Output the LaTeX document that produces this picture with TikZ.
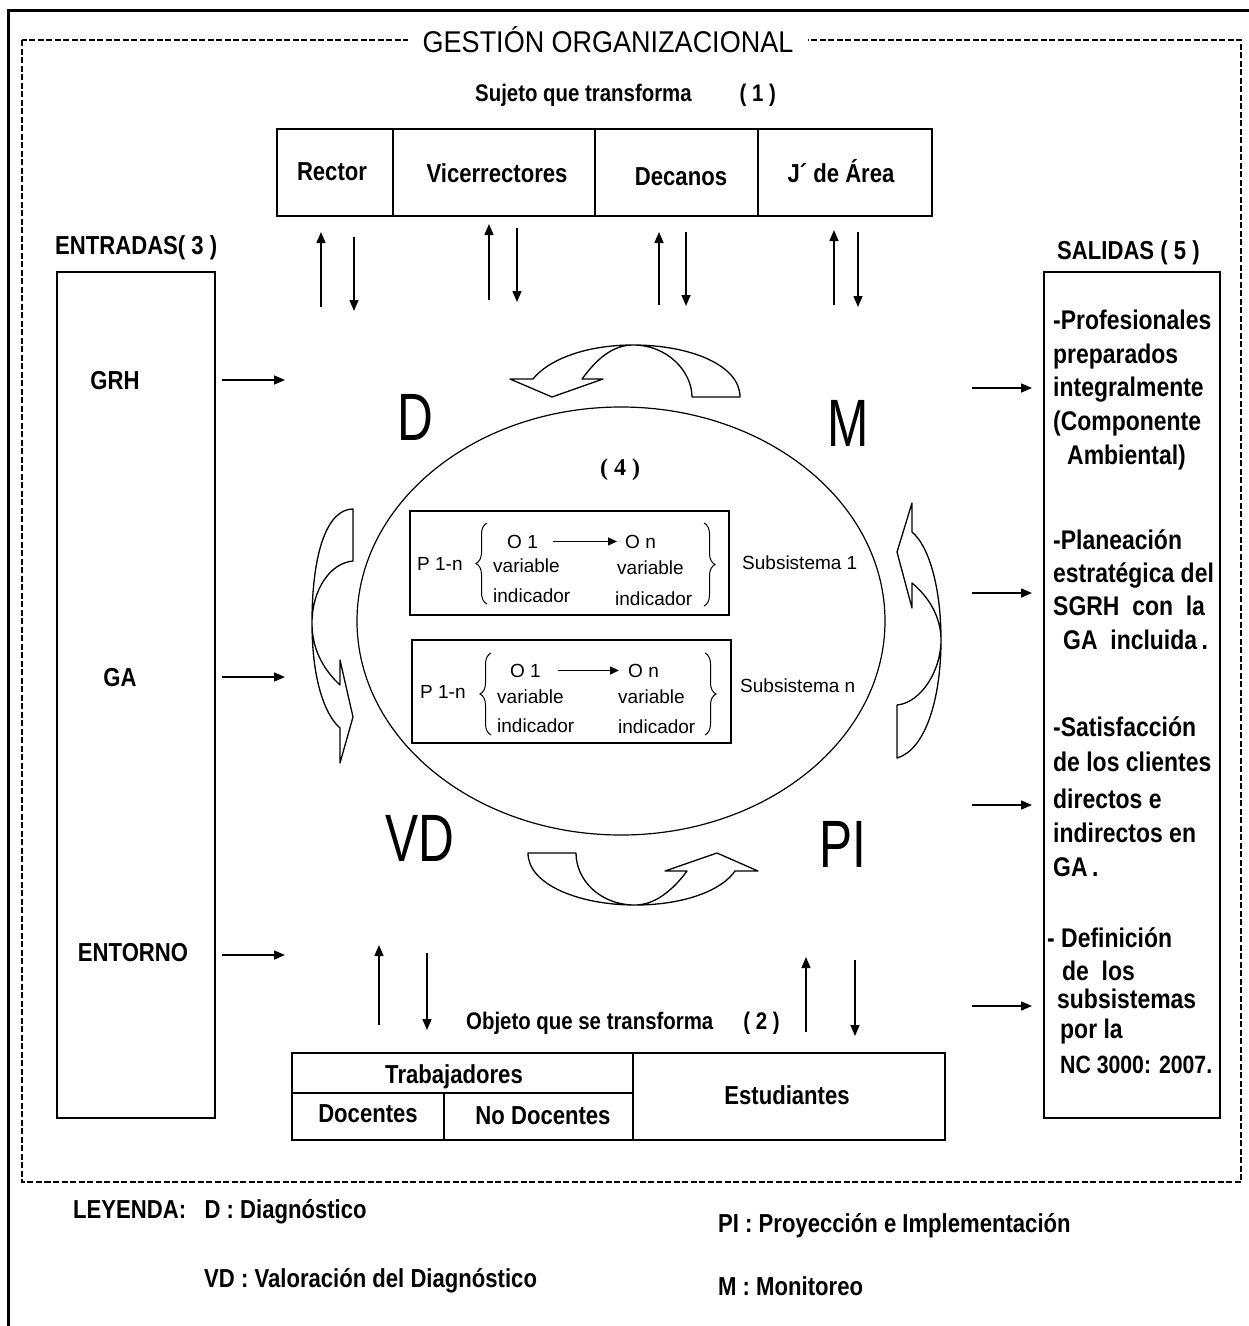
\documentclass[tikz,border=0pt]{standalone}
\usepackage{fontspec}
\setmainfont{Liberation Sans}
\newfontfamily\nbf{Liberation Sans}[FakeStretch=0.85]
\newfontfamily\bigf{Liberation Sans}[FakeStretch=0.74]
\newfontfamily\titf{Liberation Sans}[FakeStretch=0.9]
\newfontfamily\serf{Liberation Serif}
\usetikzlibrary{arrows.meta,decorations.pathreplacing}
\newcommand\fsz[1]{\fontsize{#1}{#1}\selectfont}
\begin{document}
\begin{tikzpicture}[x=1pt,y=-1pt,
  lbl/.style={inner sep=0pt, anchor=base, font=\nbf\bfseries\fsz{#1}}, lbl/.default=26,
  lblw/.style={inner sep=0pt, anchor=base west, font=\nbf\bfseries\fsz{#1}}, lblw/.default=26,
  rt/.style={inner sep=0pt, anchor=base west, font=\nbf\bfseries\fsz{27}},
  big/.style={inner sep=0pt, anchor=base, font=\bigf\fsz{67}},
  sm/.style={inner sep=0pt, anchor=base west, font=\fsz{19}},
  arr/.style={-{Triangle[length=11pt,width=9pt]}, line width=1.5pt},
  sarr/.style={-{Triangle[length=9pt,width=8pt]}, line width=1.3pt},
  box/.style={line width=1.6pt},
  carrow/.style={line width=1.3pt, fill=white, line join=round},
  brc/.style={line width=1pt, decorate, decoration={brace, amplitude=#1}}
]
\useasboundingbox (0,0) rectangle (1249,1326);
\fill[white] (0,0) rectangle (1249,1326);

% outer frames
\draw[line width=3pt] (8,1330) -- (8,10) -- (1252,10);
\draw[line width=1.2pt, dash pattern=on 6pt off 2.5pt] (22,40) rectangle (1241,1182);
\node[fill=white, inner xsep=15pt, inner ysep=3pt, anchor=base, font=\titf\fsz{30}] (title) at (608,52) {GESTIÓN ORGANIZACIONAL};

% subject
\node[lblw=24] (sujeto) at (475,101) {Sujeto que transforma\hspace{48pt}( 1 )};
\draw[box] (277,129) rectangle (932,216);
\draw[box] (393,129) -- (393,216) (595,129) -- (595,216) (758,129) -- (758,216);
\node[lbl] (rector) at (332,180) {Rector};
\node[lbl] (vice) at (497,182) {Vicerrectores};
\node[lbl] (decanos) at (681,185) {Decanos};
\node[lbl] (jarea) at (841,182) {J´ de Área};

% top arrows
\coordinate (u1) at (321,307); \coordinate (d1) at (354,237);
\coordinate (u2) at (489,300); \coordinate (d2) at (517,228);
\coordinate (u3) at (659,305); \coordinate (d3) at (686,232);
\coordinate (u4) at (834,305); \coordinate (d4) at (858,232);
\draw[arr] (u1) -- ++(0,-75);
\draw[arr] (d1) -- ++(0,74);
\draw[arr] (u2) -- ++(0,-76);
\draw[arr] (d2) -- ++(0,74);
\draw[arr] (u3) -- ++(0,-73);
\draw[arr] (d3) -- ++(0,74);
\draw[arr] (u4) -- ++(0,-75);
\draw[arr] (d4) -- ++(0,75);

% inputs
\node[lblw] (entradas) at (55,254) {ENTRADAS( 3 )};
\draw[box] (57,272) rectangle (215,1118);
\node[lbl] (grh) at (115,389) {GRH};
\node[lbl] (ga) at (120,686) {GA};
\node[lbl] (entorno) at (133,961) {ENTORNO};
\coordinate (li1) at (222,380); \coordinate (li2) at (222,677); \coordinate (li3) at (222,955);
\draw[arr] (li1) -- ++(63,0);
\draw[arr] (li2) -- ++(63,0);
\draw[arr] (li3) -- ++(63,0);

% outputs
\node[lblw] (salidas) at (1057,259) {SALIDAS ( 5 )};
\draw[box] (1044,272) rectangle (1220,1118);
\coordinate (ro1) at (972,388); \coordinate (ro2) at (972,593);
\coordinate (ro3) at (972,805); \coordinate (ro4) at (972,1006);
\draw[arr] (ro1) -- ++(60,0);
\draw[arr] (ro2) -- ++(60,0);
\draw[arr] (ro3) -- ++(60,0);
\draw[arr] (ro4) -- ++(60,0);
\foreach \xx/\yy/\tt [count=\i] in {
  1053/329/{-Profesionales}, 1053/363/{preparados}, 1053/396/{integralmente},
  1053/430/{(Componente}, 1067/464/{Ambiental)},
  1053/549/{-Planeación}, 1053/582/{estratégica del}, 1053/615/{SGRH\ \ con\ \ la},
  1063/649/{GA\ \ incluida\,.},
  1053/736/{-Satisfacción}, 1053/771/{de los clientes}, 1053/808/{directos e},
  1053/842/{indirectos en}, 1053/876/{GA\,.},
  1047/947/{-\ Definición}, 1062/980/{de\ \ los}, 1057/1008/{subsistemas},
  1060/1038/{por la}, 1060/1073/{\fsz{25}NC 3000: 2007.}}
  \node[rt] (out\i) at (\xx,\yy) {\tt};

% big letters
\node[big] (D) at (415,440) {D};
\node[big] (M) at (848,446) {M};
\node[big] (VD) at (420,861) {VD};
\node[big] (PI) at (843,867) {PI};

% ellipse
\draw[line width=1.2pt] (621,621) ellipse [x radius=264pt, y radius=214pt];
\node[inner sep=0pt, anchor=base, font=\serf\bfseries\fsz{24}] (four) at (620,475) {( 4 )};

% curved arrows
\draw[carrow] (740,397) .. controls (740,365) and (690,345) .. (633,345)
  .. controls (585,345) and (548,360) .. (533,379) -- (510,379) -- (552,397) -- (603,379) -- (582,379)
  .. controls (596,360) and (612,345) .. (633,345)
  .. controls (668,345) and (692,372) .. (692,397) -- cycle;
\draw[carrow] (528,853) .. controls (528,885) and (580,905) .. (635,905)
  .. controls (685,905) and (722,890) .. (735,871) -- (758,871) -- (717,853) -- (665,871) -- (687,871)
  .. controls (673,890) and (655,905) .. (635,905)
  .. controls (600,905) and (576,880) .. (576,853) -- cycle;
\draw[carrow] (353,509) .. controls (328,509) and (312,550) .. (312,623)
  .. controls (312,680) and (325,715) .. (340,728) -- (340,763) -- (353,717) -- (340,660) -- (340,685)
  .. controls (322,668) and (312,648) .. (312,623)
  .. controls (312,590) and (330,563) .. (353,561) -- cycle;
\draw[carrow] (897,758) .. controls (925,750) and (941,700) .. (941,640)
  .. controls (941,585) and (928,545) .. (912,532) -- (912,503) -- (897,552) -- (912,608) -- (912,583)
  .. controls (930,598) and (941,618) .. (941,640)
  .. controls (941,672) and (920,703) .. (897,705) -- cycle;

% subsystem boxes
\draw[line width=1.3pt] (410,511) rectangle (729,615);
\draw[line width=1.3pt] (412,640) rectangle (731,743);
\node[sm] (p1) at (417,570) {P 1-n};
\node[sm] (o1a) at (507,548) {O 1};
\node[sm] (ona) at (625,548) {O n};
\node[sm] (va1) at (493,572) {variable};
\node[sm] (ia1) at (493,602) {indicador};
\node[sm] (vb1) at (617,574) {variable};
\node[sm] (ib1) at (615,605) {indicador};
\draw[brc=11pt] (487,604) -- (487,523);
\draw[brc=11pt] (704,523) -- (704,606);
\draw[sarr] ([xshift=15pt]o1a.east) -- ([xshift=-8pt]ona.west);
\node[sm] (s1) at (742,569) {Subsistema 1};

\node[sm] (p2) at (420,698) {P 1-n};
\node[sm] (o1b) at (510,677) {O 1};
\node[sm] (onb) at (628,677) {O n};
\node[sm] (va2) at (497,703) {variable};
\node[sm] (ia2) at (497,732) {indicador};
\node[sm] (vb2) at (618,703) {variable};
\node[sm] (ib2) at (618,733) {indicador};
\draw[brc=11pt] (491,735) -- (491,653);
\draw[brc=11pt] (705,653) -- (705,735);
\draw[sarr] ([xshift=17pt]o1b.east) -- ([xshift=-9pt]onb.west);
\node[sm] (s2) at (740,692) {Subsistema n};

% object
\node[lblw=24] (objeto) at (466,1029) {Objeto que se transforma\hspace{30pt}( 2 )};
\coordinate (bu1) at (379,1025); \coordinate (bd1) at (427,953);
\coordinate (bu2) at (806,1032); \coordinate (bd2) at (855,960);
\draw[arr] (bu1) -- ++(0,-80);
\draw[arr] (bd1) -- ++(0,77);
\draw[arr] (bu2) -- ++(0,-75);
\draw[arr] (bd2) -- ++(0,76);
\draw[box] (292,1053) rectangle (945,1140);
\draw[box] (292,1093) -- (633,1093) (633,1053) -- (633,1140) (444,1093) -- (444,1140);
\node[lbl] (trab) at (454,1083) {Trabajadores};
\node[lbl] (doc) at (368,1122) {Docentes};
\node[lbl] (nodoc) at (543,1124) {No Docentes};
\node[lbl] (est) at (787,1104) {Estudiantes};

% legend
\node[lblw] (ley) at (73,1218) {LEYENDA:\ \ \ D : Diagnóstico};
\node[lblw] (leyvd) at (204,1287) {VD : Valoración del Diagnóstico};
\node[lblw] (leypi) at (718,1232) {PI : Proyección e Implementación};
\node[lblw] (leym) at (718,1295) {M : Monitoreo};
\end{tikzpicture}
\end{document}
